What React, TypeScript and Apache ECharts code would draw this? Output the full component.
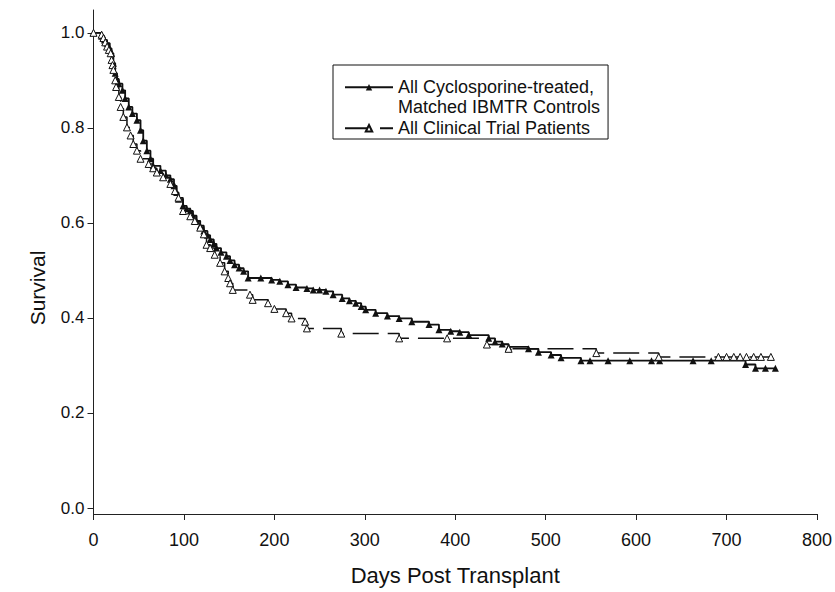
import React, { useEffect, useRef } from "react";
import * as echarts from "echarts";

// Series 1: All Cyclosporine-treated, Matched IBMTR Controls (filled triangles)
const ctrlDays = [0, 9, 12, 15, 18, 20, 22, 24, 26, 28, 32, 35, 39, 43, 48, 52, 55, 59, 63, 66, 74, 80, 85, 89, 92, 94, 99, 103, 107, 110, 114, 118, 122, 126, 129, 133, 136, 141, 147, 151, 156, 161, 166, 171, 185, 197, 206, 215, 224, 236, 243, 250, 257, 265, 275, 283, 290, 296, 301, 312, 325, 338, 352, 371, 382, 395, 405, 415, 437, 444, 452, 459, 481, 492, 506, 517, 539, 549, 569, 593, 617, 626, 663, 683, 721, 732, 743, 754];
const ctrlSurv = [1.0, 0.993, 0.985, 0.978, 0.967, 0.957, 0.936, 0.915, 0.903, 0.893, 0.879, 0.862, 0.844, 0.83, 0.816, 0.795, 0.773, 0.752, 0.735, 0.72, 0.71, 0.7, 0.692, 0.678, 0.664, 0.65, 0.636, 0.63, 0.625, 0.615, 0.604, 0.594, 0.583, 0.574, 0.565, 0.556, 0.547, 0.538, 0.53, 0.521, 0.512, 0.505, 0.498, 0.484, 0.484, 0.48, 0.477, 0.47, 0.464, 0.462, 0.459, 0.459, 0.456, 0.449, 0.441, 0.436, 0.431, 0.424, 0.417, 0.41, 0.404, 0.399, 0.392, 0.386, 0.375, 0.372, 0.37, 0.364, 0.357, 0.35, 0.345, 0.339, 0.335, 0.328, 0.322, 0.316, 0.31, 0.31, 0.31, 0.31, 0.31, 0.31, 0.31, 0.31, 0.302, 0.294, 0.294, 0.294];

// Series 2: All Clinical Trial Patients (open triangles)
const trialDays = [0, 9, 11, 13, 15, 17, 19, 20, 21, 22, 24, 25, 28, 30, 33, 37, 41, 44, 48, 52, 61, 66, 70, 77, 85, 90, 94, 99, 107, 112, 118, 122, 125, 129, 134, 140, 145, 149, 151, 154, 173, 176, 193, 200, 213, 219, 234, 236, 274, 338, 391, 435, 459, 556, 625, 691, 700, 708, 715, 722, 730, 738, 749];
const trialSurv = [1.0, 0.996, 0.989, 0.98, 0.971, 0.964, 0.957, 0.943, 0.932, 0.922, 0.9, 0.886, 0.865, 0.844, 0.823, 0.801, 0.784, 0.766, 0.752, 0.735, 0.724, 0.715, 0.706, 0.696, 0.682, 0.667, 0.653, 0.625, 0.614, 0.604, 0.59, 0.576, 0.554, 0.547, 0.533, 0.516, 0.498, 0.484, 0.473, 0.459, 0.449, 0.438, 0.431, 0.419, 0.41, 0.399, 0.392, 0.378, 0.367, 0.357, 0.357, 0.344, 0.335, 0.326, 0.318, 0.318, 0.318, 0.318, 0.318, 0.318, 0.318, 0.318, 0.318];

const yTicks = [0, 0.2, 0.4, 0.6, 0.8, 1.0];

const name1 = "All Cyclosporine-treated, Matched IBMTR Controls";
const legendLines1 = ["All Cyclosporine-treated,", "Matched IBMTR Controls"];
const name2 = "All Clinical Trial Patients";

export default function App() {
  const ref = useRef<HTMLDivElement>(null);
  useEffect(() => {
    document.body.style.margin = "0";
    if (!ref.current) return;
    const chart = echarts.init(ref.current, undefined, { renderer: "svg" });
    const font = "'Liberation Sans', Arial, sans-serif";
    const zip = (a: number[], b: number[]) => a.map((d, i) => [d, b[i]]);
    chart.setOption({
      animation: false,
      backgroundColor: "#fff",
      textStyle: { fontFamily: font, color: "#111" },
      grid: { left: 93.5, right: 14.5, top: 10, bottom: 78 },
      xAxis: {
        type: "value",
        min: 0,
        max: 800,
        interval: 100,
        name: "Days Post Transplant",
        nameLocation: "middle",
        nameGap: 50,
        nameTextStyle: { fontSize: 22, color: "#111", fontFamily: font },
        axisLine: { onZero: false, lineStyle: { color: "#222", width: 1 } },
        axisTick: { length: 6, lineStyle: { color: "#222" } },
        axisLabel: { fontSize: 18, color: "#111", margin: 17, fontFamily: font },
        splitLine: { show: false },
      },
      yAxis: {
        type: "value",
        min: -0.0126,
        max: 1.048,
        name: "Survival",
        nameLocation: "middle",
        nameGap: 46,
        nameTextStyle: { fontSize: 21, color: "#111", fontFamily: font, padding: [0, 52, 0, 0] },
        axisLine: { lineStyle: { color: "#222", width: 1 } },
        axisTick: { length: 6, lineStyle: { color: "#222" }, customValues: yTicks },
        axisLabel: {
          fontSize: 17,
          color: "#111",
          margin: 9,
          fontFamily: font,
          customValues: yTicks,
          formatter: (v: number) => v.toFixed(1),
        },
        splitLine: { show: false },
      },
      legend: {
        orient: "vertical",
        left: 333,
        top: 65,
        borderColor: "#111",
        borderWidth: 1,
        padding: [-7, 8, 1, 11],
        itemGap: 2,
        itemWidth: 48,
        itemHeight: 8,
        textStyle: { fontSize: 18, color: "#111", fontFamily: font, lineHeight: 19.5 },
        formatter: (n: string) => (n === name1 ? "\n" + legendLines1.join("\n") : n),
        data: [name1, name2],
      },
      series: [
        {
          name: name1,
          type: "line",
          step: "end",
          data: zip(ctrlDays, ctrlSurv),
          symbol: "triangle",
          symbolSize: 7,
          showAllSymbol: true,
          lineStyle: { color: "#111", width: 1.8 },
          itemStyle: { color: "#111" },
          emphasis: { disabled: true },
        },
        {
          name: name2,
          type: "line",
          step: "end",
          data: zip(trialDays, trialSurv),
          symbol: "triangle",
          symbolSize: 7,
          showAllSymbol: true,
          lineStyle: { color: "#111", width: 1.5, type: [26, 9] },
          itemStyle: { color: "#fff", borderColor: "#111", borderWidth: 1 },
          emphasis: { disabled: true },
        },
      ],
    });
    return () => chart.dispose();
  }, []);
  return <div ref={ref} style={{ width: 835, height: 592 }} />;
}
